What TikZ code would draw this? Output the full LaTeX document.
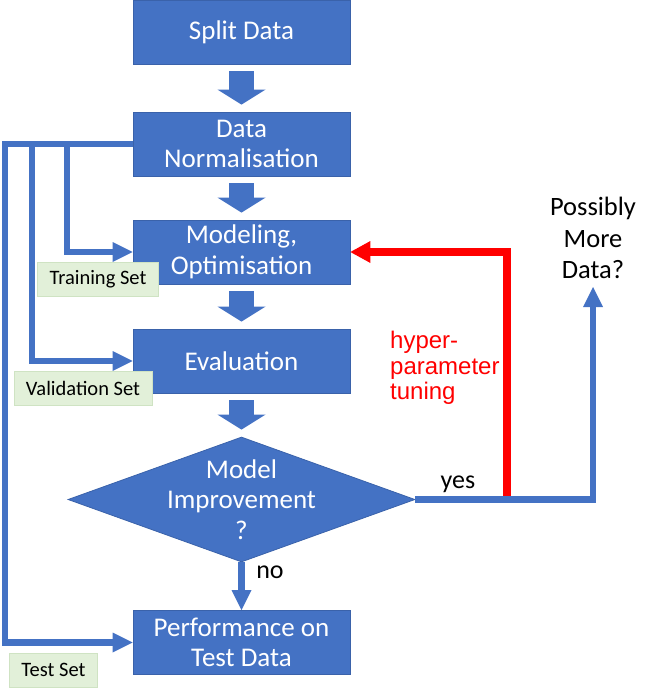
\documentclass[tikz,border=0pt]{standalone}
\usepackage{fontspec}
\setmainfont{Carlito}
\newfontfamily\arialfont{Liberation Sans}
\usetikzlibrary{shapes.geometric,arrows.meta}
\definecolor{boxblue}{HTML}{4472C4}
\definecolor{boxedge}{HTML}{3A62AA}
\definecolor{setgreen}{HTML}{E2F0D9}
\definecolor{setedge}{HTML}{CFE3C3}

\begin{document}
\begin{tikzpicture}[x=1pt,y=-1pt]
	\tikzstyle{every node}+=[inner sep=0pt]
	\tikzstyle{stage}=[fill=boxblue, draw=boxedge, line width=0.8pt, minimum width=217pt, minimum height=64pt, text=white, align=center, font=\fontsize{27}{30.5}\selectfont]
	\tikzstyle{setlabel}=[fill=setgreen, draw=setedge, line width=0.8pt, inner xsep=12pt, minimum height=34pt, font=\fontsize{20.5}{22}\selectfont]
	\tikzstyle{fat}=[draw=boxblue, line width=25pt, shorten <=7pt, shorten >=7pt, -{Triangle[width=48pt,length=15pt,line width=0pt]}]
	\tikzstyle{feed}=[draw=boxblue, line width=6.5pt, -{Triangle[width=20pt,length=20pt,line width=0pt]}]
	\tikzstyle{tune}=[draw=red, line width=7.5pt, -{Triangle[width=22pt,length=20pt,line width=0pt]}]
	\useasboundingbox (0,0) rectangle (660,695);
	\node [stage] (split) at (241.5,32) {Split Data};
	\node [stage] (norm) at (241.5,144) {Data\\Normalisation};
	\node [stage] (model) at (241.5,252) {Modeling,\\Optimisation};
	\node [stage] (eval) at (241.5,361) {Evaluation};
	\node [diamond, fill=boxblue, draw=boxedge, line width=0.8pt, minimum width=347pt, minimum height=125pt] (dec) at (241.5,499.5) {};
	\node [text=white, align=center, font=\fontsize{27}{30.5}\selectfont] (dectext) at (dec) {Model\\Improvement\\?};
	\node [stage] (perf) at (241.5,642.5) {Performance on\\Test Data};
	\draw [fat] (split.south) -- (norm.north);
	\draw [fat] (norm.south) -- (model.north);
	\draw [fat] (model.south) -- (eval.north);
	\draw [fat] (eval.south) -- (dec.north);
	\draw [feed] (dec.south) -- (perf.north);
	\node [anchor=base, font=\fontsize{26}{30}\selectfont] (no) at (270,578) {no};
	\draw [feed] (norm.west) -- (5,144) |- (perf.west);
	\draw [feed] (32,144) |- (eval.west);
	\draw [feed] (67,144) |- (model.west);
	\node [setlabel] (train) at (98,279.5) {Training Set};
	\node [setlabel] (valid) at (83,388) {Validation Set};
	\node [setlabel] (test) at (53.5,670) {Test Set};
	\node [anchor=south, inner ysep=8pt, align=center, font=\fontsize{26.5}{31.5}\selectfont] (more) at (593,287) {Possibly\\More\\Data?};
	\draw [tune] (dec.east) -- (507,499.5) |- (model.east);
	\draw [feed] (dec.east) -- (more.south |- dec.east) -- (more.south);
	\node [anchor=base, font=\fontsize{26}{30}\selectfont] (yes) at (458,488) {yes};
	\node [anchor=north west, align=left, text=red, font=\arialfont\fontsize{24}{25.5}\selectfont] (hyper) at (390,331) {hyper-\\parameter\\tuning};
\end{tikzpicture}
\end{document}
